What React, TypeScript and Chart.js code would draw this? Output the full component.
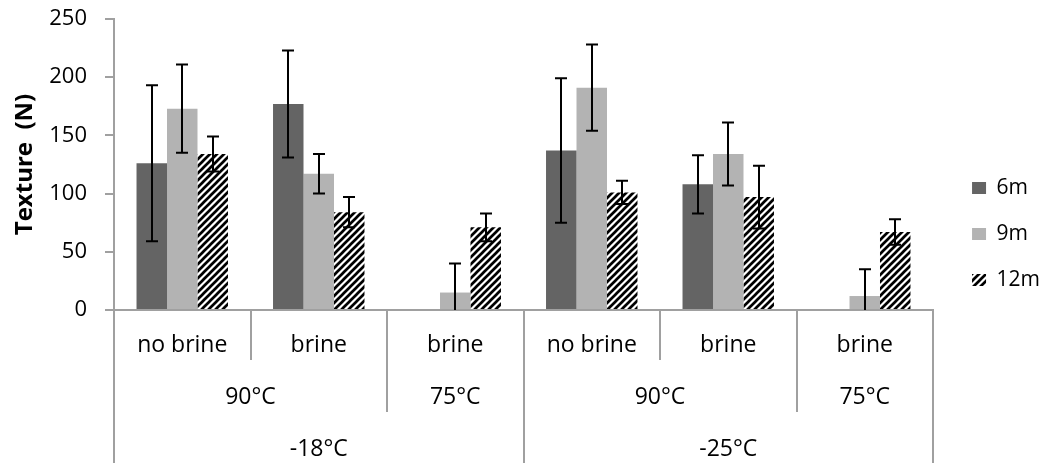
import React, { useEffect, useRef } from 'react';
import { Chart, registerables } from 'chart.js';

Chart.register(...registerables);

// ---- data ----
const categories = ['no brine', 'brine', 'brine', 'no brine', 'brine', 'brine'];
const processLabels = ['90°C', '75°C', '90°C', '75°C'];
const processSpans = [2, 1, 2, 1];
const storageLabels = ['-18°C', '-25°C'];
const storageSpans = [3, 3];
const seriesNames = ['6m', '9m', '12m'];
const texture6m = [126, 177, null, 137, 108, null];
const error6m = [67, 46, null, 62, 25, null];
const texture9m = [173, 117, 15, 191, 134, 12];
const error9m = [38, 17, 25, 37, 27, 23];
const texture12m = [134, 84, 71, 101, 97, 67];
const error12m = [15, 13, 12, 10, 27, 11];
const yMin = 0;
const yMax = 250;
const yStep = 50;
const yTitle = 'Texture  (N)';

const FONT = '"Open Sans", "DejaVu Sans", sans-serif';
const AXIS_GREY = '#a0a0a0';

function makeHatch(): CanvasPattern | string {
  const size = 7;
  const c = document.createElement('canvas');
  c.width = size;
  c.height = size;
  const g = c.getContext('2d');
  if (!g) return '#000';
  g.fillStyle = '#ffffff';
  g.fillRect(0, 0, size, size);
  g.strokeStyle = '#000000';
  g.lineWidth = 2.7;
  g.beginPath();
  g.moveTo(-1, size + 1);
  g.lineTo(size + 1, -1);
  g.moveTo(-2, 2);
  g.lineTo(2, -2);
  g.moveTo(size - 2, size + 2);
  g.lineTo(size + 2, size - 2);
  g.stroke();
  const p = g.createPattern(c, 'repeat');
  return p || '#000';
}

const errorBarPlugin = {
  id: 'errorBars',
  afterDatasetsDraw(chart: any) {
    const { ctx, chartArea } = chart;
    const yScale = chart.scales.y;
    ctx.save();
    ctx.beginPath();
    ctx.rect(chartArea.left, chartArea.top - 2, chartArea.right - chartArea.left, chartArea.bottom - chartArea.top + 2);
    ctx.clip();
    ctx.strokeStyle = '#000000';
    ctx.lineWidth = 2;
    chart.data.datasets.forEach((ds: any, di: number) => {
      const meta = chart.getDatasetMeta(di);
      const errs = ds.errors || [];
      meta.data.forEach((el: any, i: number) => {
        const v = ds.data[i];
        const e = errs[i];
        if (v == null || e == null) return;
        const x = Math.round(el.x);
        const yTop = yScale.getPixelForValue(v + e);
        const yBot = yScale.getPixelForValue(v - e);
        const cap = 6;
        ctx.beginPath();
        ctx.moveTo(x, yTop);
        ctx.lineTo(x, yBot);
        ctx.moveTo(x - cap, yTop);
        ctx.lineTo(x + cap, yTop);
        ctx.moveTo(x - cap, yBot);
        ctx.lineTo(x + cap, yBot);
        ctx.stroke();
      });
    });
    ctx.restore();
  },
};

function boundaries(spans: number[]): number[] {
  const out = [0];
  let acc = 0;
  spans.forEach((s) => {
    acc += s;
    out.push(acc);
  });
  return out;
}

const groupedLabelsPlugin = {
  id: 'groupedLabels',
  afterDraw(chart: any) {
    const { ctx, chartArea } = chart;
    const xs = chart.scales.x;
    const n = categories.length;
    const edge = (k: number) => xs.getPixelForValue(k - 0.5);
    const bottom = chartArea.bottom;
    const canvasH = chart.height;
    const procB = boundaries(processSpans);
    const storB = boundaries(storageSpans);

    ctx.save();
    ctx.strokeStyle = AXIS_GREY;
    ctx.lineWidth = 2;
    for (let k = 0; k <= n; k++) {
      let len = 50;
      if (storB.includes(k)) len = canvasH - bottom;
      else if (procB.includes(k)) len = 102;
      const x = Math.round(edge(k));
      ctx.beginPath();
      ctx.moveTo(x, bottom);
      ctx.lineTo(x, bottom + len);
      ctx.stroke();
    }

    ctx.fillStyle = '#000000';
    ctx.textAlign = 'center';
    ctx.textBaseline = 'alphabetic';
    ctx.font = `23px ${FONT}`;
    categories.forEach((lab, i) => {
      ctx.fillText(lab, xs.getPixelForValue(i), bottom + 42);
    });
    processLabels.forEach((lab, i) => {
      const a = procB[i];
      const b = procB[i + 1];
      ctx.fillText(lab, (edge(a) + edge(b)) / 2, bottom + 94);
    });
    storageLabels.forEach((lab, i) => {
      const a = storB[i];
      const b = storB[i + 1];
      ctx.fillText(lab, (edge(a) + edge(b)) / 2, bottom + 146);
    });
    ctx.restore();
  },
};

export default function App() {
  const canvasRef = useRef<HTMLCanvasElement | null>(null);

  useEffect(() => {
    if (!canvasRef.current) return;
    const hatch = makeHatch();
    const chart = new Chart(canvasRef.current, {
      type: 'bar',
      data: {
        labels: categories,
        datasets: [
          { label: seriesNames[0], data: texture6m, errors: error6m, backgroundColor: '#646464', borderWidth: 0 } as any,
          { label: seriesNames[1], data: texture9m, errors: error9m, backgroundColor: '#b3b3b3', borderWidth: 0 } as any,
          { label: seriesNames[2], data: texture12m, errors: error12m, backgroundColor: hatch, borderWidth: 0 } as any,
        ],
      },
      options: {
        responsive: false,
        animation: false,
        events: [],
        devicePixelRatio: 1,
        layout: { padding: { top: 19, bottom: 14, left: 0, right: 0 } },
        datasets: { bar: { categoryPercentage: 0.67, barPercentage: 1 } },
        plugins: {
          tooltip: { enabled: false },
          legend: {
            display: true,
            position: 'right',
            labels: {
              boxWidth: 14,
              boxHeight: 12,
              padding: 25,
              color: '#000000',
              font: { family: FONT, size: 21 },
            },
          },
        },
        scales: {
          x: {
            type: 'category',
            position: 'bottom',
            grid: { display: false },
            ticks: { display: false },
            border: { display: true, color: AXIS_GREY, width: 2 },
            afterFit: (s: any) => {
              s.height = 139;
              s.paddingLeft = 0;
              s.paddingRight = 0;
            },
          },
          y: {
            type: 'linear',
            position: 'left',
            min: yMin,
            max: yMax,
            ticks: {
              stepSize: yStep,
              color: '#000000',
              padding: 18,
              font: { family: FONT, size: 22 },
            },
            grid: {
              display: true,
              drawOnChartArea: false,
              drawTicks: true,
              tickLength: 9,
              color: AXIS_GREY,
              lineWidth: 2,
            },
            border: { display: true, color: AXIS_GREY, width: 2 },
            title: {
              display: true,
              text: yTitle,
              color: '#000000',
              padding: { top: 11, bottom: 0 },
              font: { family: FONT, size: 24, weight: 'bold' },
            },
            afterFit: (s: any) => {
              s.width = 114;
              s.paddingTop = 0;
              s.paddingBottom = 0;
            },
          },
          spacer: {
            type: 'linear',
            position: 'right',
            display: true,
            grid: { display: false },
            ticks: { display: false },
            border: { display: false },
            afterFit: (s: any) => {
              const lw = s.chart.legend ? s.chart.legend.width : 100;
              s.width = Math.max(0, s.chart.width - 933 - lw);
              s.paddingTop = 0;
              s.paddingBottom = 0;
            },
          },
        },
      } as any,
      plugins: [errorBarPlugin, groupedLabelsPlugin],
    });
    return () => chart.destroy();
  }, []);

  return (
    <div style={{ position: 'fixed', left: 0, top: 0, width: 1050, height: 463, background: '#ffffff' }}>
      <canvas ref={canvasRef} width={1050} height={463} style={{ display: 'block' }} />
    </div>
  );
}
